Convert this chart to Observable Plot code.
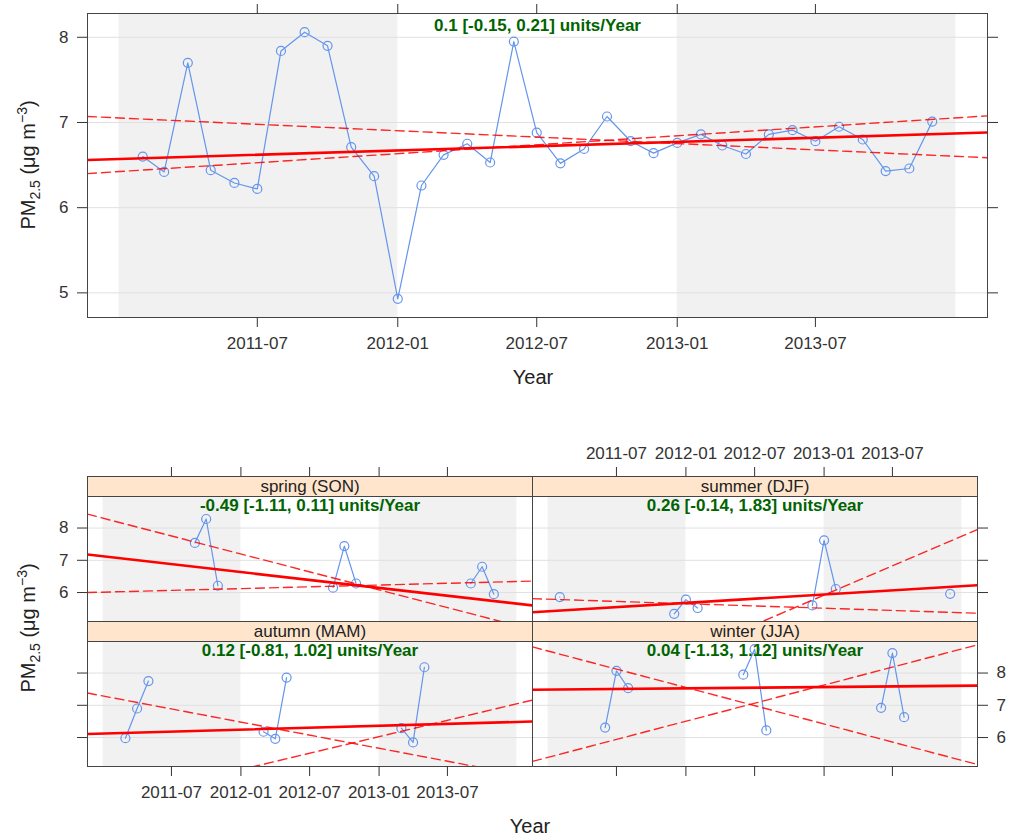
<!DOCTYPE html>
<html><head><meta charset="utf-8">
<script src="https://cdn.jsdelivr.net/npm/d3@7"></script>
<script src="https://cdn.jsdelivr.net/npm/@observablehq/plot@0.6"></script>
<style>
body{margin:0;background:#fff;}
#chart{position:relative;width:1011px;height:836px;overflow:hidden;font-family:"Liberation Sans",Arial,sans-serif;color:#222;background:#fff;}
#chart svg{position:absolute;}
.strip{position:absolute;background:#FFE5CC;border:1px solid #444;box-sizing:border-box;display:flex;align-items:center;justify-content:center;font-size:17px;color:#222;line-height:1;}
.ylab{position:absolute;font-size:20px;white-space:nowrap;line-height:1;transform:translate(-50%,-50%) rotate(-90deg);}
.xlab{position:absolute;font-size:20px;line-height:1;transform:translate(-50%,-50%);}
.ylab sub,.ylab sup{font-size:14px;line-height:0;}
</style>
</head><body><div id="chart"></div>
<script>
// ---- data ----
const months = ["2011-02","2011-03","2011-04","2011-05","2011-06","2011-07","2011-08","2011-09","2011-10","2011-11","2011-12",
  "2012-01","2012-02","2012-03","2012-04","2012-05","2012-06","2012-07","2012-08","2012-09","2012-10","2012-11","2012-12",
  "2013-01","2013-02","2013-03","2013-04","2013-05","2013-06","2013-07","2013-08","2013-09","2013-10","2013-11","2013-12"];
const pm25 = [6.60,6.42,7.70,6.44,6.29,6.22,7.84,8.06,7.90,6.71,6.37,
  4.93,6.26,6.62,6.75,6.53,7.95,6.88,6.52,6.69,7.07,6.78,6.64,
  6.76,6.86,6.73,6.63,6.86,6.91,6.78,6.95,6.80,6.43,6.46,7.01];

const seasonNames = ["spring (SON)","summer (DJF)","autumn (MAM)","winter (JJA)"];
const springMonths = ["2011-09","2011-10","2011-11","2012-09","2012-10","2012-11","2013-09","2013-10","2013-11"];
const springValues = [7.54,8.28,6.21,6.15,7.44,6.28,6.28,6.80,5.95];
const summerMonths = ["2011-02","2011-12","2012-01","2012-02","2012-12","2013-01","2013-02","2013-12"];
const summerValues = [5.86,5.34,5.78,5.52,5.60,7.62,6.11,5.96];
const autumnMonths = ["2011-03","2011-04","2011-05","2012-03","2012-04","2012-05","2013-03","2013-04","2013-05"];
const autumnValues = [5.98,6.90,7.75,6.18,5.96,7.86,6.29,5.85,8.18];
const winterMonths = ["2011-06","2011-07","2011-08","2012-06","2012-07","2012-08","2013-06","2013-07","2013-08"];
const winterValues = [6.31,8.07,7.53,7.95,8.74,6.22,6.92,8.62,6.63];

// Theil-Sen slopes (units/year) and line values at the left edge of the time axis
const topSlope = 0.1, topLower = -0.15, topUpper = 0.21;
const topStartMain = 6.56, topStartLower = 7.07, topStartUpper = 6.40;
const seasonSlope = [-0.49, 0.26, 0.12, 0.04];
const seasonLower = [-1.11, -0.14, -0.81, -1.13];
const seasonUpper = [0.11, 1.83, 1.02, 1.12];
const seasonStartMain = [7.18, 5.39, 6.11, 7.48];
const seasonStartLower = [8.43, 5.81, 7.38, 8.81];
const seasonStartUpper = [6.00, 2.05, 3.87, 5.26];

const xTickLabels = ["2011-07","2012-01","2012-07","2013-01","2013-07"];
const yTicksTop = [5,6,7,8];
const yTicksSeason = [6,7,8];
const shadeYears = [2011, 2013];

// ---- helpers ----
const parseMonth = d3.utcParse("%Y-%m");
const fmt = d3.utcFormat("%Y-%m");
const yFmt = d3.format("d");
const xTicks = xTickLabels.map(parseMonth);
const dates = months.map(parseMonth);
const [d0, d1] = d3.extent(dates);
const padT = (d1 - d0) * 0.07;
const xDomain = [new Date(+d0 - padT), new Date(+d1 + padT)];
const yearsSpan = (xDomain[1] - xDomain[0]) / (365.25 * 864e5);
function padExtent(vals){const [a,b] = d3.extent(vals); const p = (b-a)*0.07; return [a-p, b+p];}
const yDomainTop = padExtent(pm25);
const yDomainSeason = padExtent([...springValues,...summerValues,...autumnValues,...winterValues]);
const shades = shadeYears.map(y => ({x1: new Date(Date.UTC(y,0,1)), x2: new Date(Date.UTC(y+1,0,1))}));

function series(ms, vs){
  let g = 0; const ds = ms.map(parseMonth);
  return ds.map((d,i) => { if (i > 0 && d - ds[i-1] > 40*864e5) g++; return {date: d, value: vs[i], g}; });
}
function trend(starts, slopes){
  return starts.flatMap((s,i) => [{x: xDomain[0], y: s, k: i}, {x: xDomain[1], y: s + slopes[i]*yearsSpan, k: i}]);
}
const label = (s, lo, hi) => `${s} [${lo}, ${hi}] units/Year`;
const FONT = '"Liberation Sans", Arial, sans-serif';

function panel({data, main, dashed, text, textDy, yDomain, yTicks, width, height, mt, mr, mb, ml, axes, r = 4.5}){
  return Plot.plot({
    width, height, marginTop: mt, marginRight: mr, marginBottom: mb, marginLeft: ml,
    x: {type: "utc", domain: xDomain},
    y: {domain: yDomain},
    style: {background: "transparent", fontFamily: FONT, fontSize: "17px", color: "#333", overflow: "visible"},
    marks: [
      Plot.rect(shades, {x1: "x1", x2: "x2", y1: () => yDomain[0], y2: () => yDomain[1], fill: "#f1f1f1"}),
      Plot.gridY(yTicks, {stroke: "#e0e0e0", strokeOpacity: 1}),
      Plot.line(data, {x: "date", y: "value", z: "g", stroke: "#6495ED", strokeWidth: 1.2}),
      Plot.dot(data, {x: "date", y: "value", r, stroke: "#6495ED", strokeWidth: 1.2, fill: "none"}),
      Plot.line(dashed, {x: "x", y: "y", z: "k", stroke: "red", strokeWidth: 1.4, strokeOpacity: 0.85, strokeDasharray: "9,5", clip: true}),
      Plot.line(main, {x: "x", y: "y", z: "k", stroke: "red", strokeWidth: 2.6, clip: true}),
      Plot.text([text], {text: d => d, frameAnchor: "top", lineAnchor: "top", dy: textDy, fill: "#006400", fontWeight: "bold", fontSize: 17}),
      Plot.frame({stroke: "#444"}),
      ...axes
    ]
  });
}

const root = document.getElementById("chart");
function place(el, left, top){ el.style.left = left + "px"; el.style.top = top + "px"; root.appendChild(el); }
function div(cls, html, css){ const e = document.createElement("div"); e.className = cls; e.innerHTML = html; Object.assign(e.style, css); root.appendChild(e); return e; }

const blank = () => "";
const yLeftLab = t => Plot.axisY(t, {anchor: "left", tickSize: 10, tickPadding: 9, tickFormat: yFmt, fontSize: 17, label: null});
const yLeftTick = t => Plot.axisY(t, {anchor: "left", tickSize: 10, tickFormat: blank, label: null});
const yRightLab = t => Plot.axisY(t, {anchor: "right", tickSize: 10, tickPadding: 9, tickFormat: yFmt, fontSize: 17, label: null});
const yRightTick = t => Plot.axisY(t, {anchor: "right", tickSize: 10, tickFormat: blank, label: null});
const xBotLab = Plot.axisX(xTicks, {anchor: "bottom", tickSize: 10, tickPadding: 9, tickFormat: fmt, fontSize: 17, label: null});
const xBotTick = Plot.axisX(xTicks, {anchor: "bottom", tickSize: 10, tickFormat: blank, label: null});
const xTopTick = (inset) => Plot.axisX(xTicks, {anchor: "top", tickSize: 10, tickFormat: blank, label: null, insetTop: inset});
const xTopLab = (inset) => Plot.axisX(xTicks, {anchor: "top", tickSize: 10, tickPadding: 8, tickFormat: fmt, fontSize: 17, label: null, insetTop: inset});

// ---- top panel ----
const topPlot = panel({
  data: series(months, pm25),
  main: trend([topStartMain], [topSlope]),
  dashed: trend([topStartLower, topStartUpper], [topLower, topUpper]),
  text: label(topSlope, topLower, topUpper), textDy: 5,
  yDomain: yDomainTop, yTicks: yTicksTop,
  width: 1011, height: 360, mt: 13, mr: 24, mb: 43, ml: 87,
  axes: [yLeftLab(yTicksTop), yRightTick(yTicksTop), xBotLab, xTopTick(0)]
});
place(topPlot, 0, 0);
div("xlab", "Year", {left: "533px", top: "377px"});
div("ylab", "PM<sub>2.5</sub> (μg m<sup>−3</sup>)", {left: "28px", top: "165px"});

// ---- seasonal panels ----
const sData = [[springMonths, springValues],[summerMonths, summerValues],[autumnMonths, autumnValues],[winterMonths, winterValues]];
const layout = [
  {left: 0,   top: 440, width: 552, height: 200, mt: 56, mr: 20, mb: 19, ml: 87, axes: [yLeftLab(yTicksSeason), xTopTick(-20)]},
  {left: 512, top: 420, width: 499, height: 220, mt: 76, mr: 34, mb: 19, ml: 20, axes: [yRightTick(yTicksSeason), xTopLab(-20)]},
  {left: 0,   top: 600, width: 552, height: 220, mt: 41, mr: 20, mb: 54, ml: 87, axes: [yLeftTick(yTicksSeason), xBotLab]},
  {left: 512, top: 600, width: 499, height: 220, mt: 41, mr: 34, mb: 54, ml: 20, axes: [yRightLab(yTicksSeason), xBotTick]}
];
layout.forEach((L, i) => {
  const p = panel({
    data: series(sData[i][0], sData[i][1]),
    main: trend([seasonStartMain[i]], [seasonSlope[i]]),
    dashed: trend([seasonStartLower[i], seasonStartUpper[i]], [seasonLower[i], seasonUpper[i]]),
    text: label(seasonSlope[i], seasonLower[i], seasonUpper[i]), textDy: 2,
    yDomain: yDomainSeason, yTicks: yTicksSeason,
    width: L.width, height: L.height, mt: L.mt, mr: L.mr, mb: L.mb, ml: L.ml, axes: L.axes
  });
  place(p, L.left, L.top);
});
const strips = [
  {left: 87, top: 476, width: 446}, {left: 532, top: 476, width: 446},
  {left: 87, top: 621, width: 446}, {left: 532, top: 621, width: 446}
];
strips.forEach((s, i) => div("strip", seasonNames[i], {left: s.left + "px", top: s.top + "px", width: s.width + "px", height: "21px"}));
div("xlab", "Year", {left: "530px", top: "826px"});
div("ylab", "PM<sub>2.5</sub> (μg m<sup>−3</sup>)", {left: "28px", top: "628px"});
</script></body></html>
